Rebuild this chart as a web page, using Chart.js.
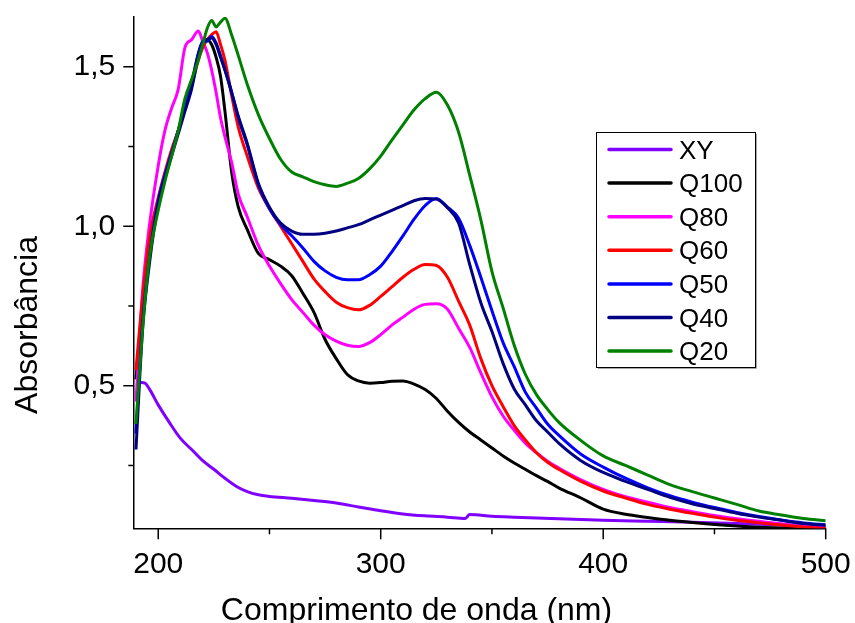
<!DOCTYPE html>
<html><head><meta charset="utf-8">
<script src="https://cdn.jsdelivr.net/npm/chart.js@4.4.1/dist/chart.umd.min.js"></script>
<style>html,body{margin:0;padding:0;background:#fff}#wrap{width:855px;height:623px;position:relative}</style>
</head><body><div id="wrap"><canvas id="c" width="855" height="623"></canvas></div>
<script>
// ---- data ----
const wavelengths = [190,193,196,200,203,206,209,212,215,218,220,222,224,226,228,230,233,236,240,
  245,250,255,260,265,270,275,280,285,290,295,300,305,310,315,320,325,330,335,340,345,350,355,360,365,370,375,380,
  390,400,410,420,430,440,450,460,470,480,490,500];

const xyWavelengths = [192,194,196,200,205,210,215,220,225,230,235,240,245,250,260,270,280,290,300,310,320,330,338,340,350,360,380,400,420,440,460,480,500];
const xyValues      = [0.51,0.508,0.49,0.44,0.385,0.335,0.30,0.265,0.238,0.21,0.185,0.168,0.158,0.153,0.147,0.14,0.132,0.12,0.108,0.098,0.092,0.088,0.084,0.096,0.091,0.088,0.083,0.078,0.075,0.072,0.068,0.063,0.058];

const q100 = [0.52,0.76,0.95,1.08,1.16,1.23,1.30,1.37,1.45,1.54,1.575,1.585,1.57,1.53,1.47,1.36,1.17,1.06,0.99,
  0.915,0.895,0.875,0.845,0.79,0.73,0.645,0.585,0.535,0.515,0.508,0.51,0.514,0.515,0.505,0.488,0.46,0.42,0.385,0.355,0.33,0.305,0.28,0.258,0.238,0.218,0.20,0.18,
  0.148,0.113,0.097,0.087,0.078,0.071,0.065,0.06,0.056,0.054,0.052,0.05];

const q80 = [0.45,0.80,1.00,1.19,1.30,1.37,1.43,1.56,1.585,1.612,1.58,1.545,1.49,1.42,1.34,1.28,1.20,1.10,1.03,
  0.94,0.875,0.82,0.77,0.73,0.69,0.66,0.64,0.627,0.623,0.635,0.66,0.69,0.715,0.74,0.755,0.757,0.74,0.68,0.62,0.54,0.465,0.405,0.36,0.32,0.29,0.263,0.242,
  0.205,0.175,0.152,0.135,0.118,0.105,0.093,0.083,0.075,0.067,0.06,0.056];

const q60 = [0.55,0.78,0.96,1.09,1.17,1.24,1.30,1.37,1.44,1.52,1.56,1.585,1.60,1.61,1.57,1.52,1.41,1.31,1.22,
  1.12,1.055,1.0,0.945,0.89,0.835,0.795,0.762,0.745,0.738,0.752,0.78,0.81,0.84,0.865,0.88,0.877,0.84,0.765,0.69,0.585,0.50,0.435,0.375,0.33,0.29,0.26,0.238,
  0.20,0.17,0.148,0.128,0.113,0.10,0.088,0.078,0.07,0.063,0.057,0.052];

const q50 = [0.35,0.70,0.90,1.08,1.16,1.23,1.30,1.37,1.44,1.54,1.58,1.58,1.595,1.575,1.535,1.49,1.42,1.34,1.255,
  1.13,1.055,1.005,0.97,0.932,0.89,0.86,0.84,0.832,0.832,0.848,0.875,0.92,0.97,1.022,1.065,1.087,1.06,1.025,0.94,0.84,0.735,0.635,0.56,0.48,0.43,0.38,0.345,
  0.285,0.245,0.21,0.18,0.155,0.135,0.118,0.103,0.09,0.079,0.07,0.064];

const q40 = [0.30,0.68,0.88,1.07,1.15,1.22,1.29,1.36,1.43,1.53,1.575,1.585,1.59,1.57,1.53,1.49,1.42,1.345,1.26,
  1.135,1.06,1.01,0.985,0.975,0.975,0.978,0.985,0.995,1.005,1.02,1.035,1.05,1.065,1.08,1.087,1.085,1.058,1.01,0.88,0.76,0.67,0.57,0.49,0.44,0.39,0.355,0.32,
  0.265,0.228,0.20,0.175,0.15,0.13,0.115,0.10,0.088,0.078,0.068,0.062];

const q20 = [0.38,0.68,0.90,1.05,1.14,1.22,1.30,1.40,1.46,1.52,1.57,1.62,1.645,1.625,1.64,1.652,1.60,1.535,1.445,
  1.35,1.275,1.21,1.17,1.155,1.14,1.13,1.125,1.135,1.15,1.18,1.22,1.27,1.318,1.365,1.40,1.42,1.38,1.295,1.16,1.02,0.858,0.744,0.627,0.536,0.472,0.426,0.386,
  0.328,0.28,0.25,0.22,0.19,0.168,0.148,0.128,0.107,0.095,0.084,0.077];

const seriesNames  = ['XY','Q100','Q80','Q60','Q50','Q40','Q20'];
const seriesColors = ['#8000FF','#000000','#FF00FF','#FF0000','#0000FF','#000080','#008000'];
const seriesValues = [xyValues, q100, q80, q60, q50, q40, q20];

const xTickValues  = [200,250,300,350,400,450,500];
const xTickLabels  = [200,300,400,500];
const yTickValues  = [0.25,0.5,0.75,1.0,1.25,1.5];
const yTickLabels  = [0.5,1.0,1.5];

const xTitle = 'Comprimento de onda (nm)';
const yTitle = 'Absorbância';

// ---- chart ----
const FONT = '"Liberation Sans", Arial, Helvetica, sans-serif';
Chart.defaults.font.family = FONT;
Chart.defaults.color = '#000';

const datasets = seriesNames.map((name, i) => {
  const xs = i === 0 ? xyWavelengths : wavelengths;
  return {
    label: name,
    data: xs.map((x, k) => ({x: x, y: seriesValues[i][k]})),
    borderColor: seriesColors[i],
    backgroundColor: seriesColors[i],
    borderWidth: 3,
    pointRadius: 0,
    fill: false,
    cubicInterpolationMode: 'monotone',
    order: seriesNames.length - i
  };
});

const isIn = (arr, v) => arr.some(a => Math.abs(a - v) < 1e-6);

const decor = {
  id: 'decor',
  afterDraw(chart) {
    const ctx = chart.ctx, xs = chart.scales.x, ys = chart.scales.y, area = chart.chartArea;
    ctx.save();
    ctx.strokeStyle = '#000';
    ctx.lineWidth = 1.5;
    // tick marks (outward)
    xTickValues.forEach(v => {
      const px = xs.getPixelForValue(v);
      const len = isIn(xTickLabels, v) ? 11 : 6;
      ctx.beginPath(); ctx.moveTo(px, area.bottom); ctx.lineTo(px, area.bottom + len); ctx.stroke();
    });
    yTickValues.forEach(v => {
      const py = ys.getPixelForValue(v);
      const len = isIn(yTickLabels, v) ? 10 : 5;
      ctx.beginPath(); ctx.moveTo(area.left - len, py); ctx.lineTo(area.left, py); ctx.stroke();
    });
    // axis titles
    ctx.fillStyle = '#000';
    ctx.font = '32px ' + FONT;
    ctx.textAlign = 'center';
    ctx.textBaseline = 'alphabetic';
    ctx.fillText(xTitle, 416.5, 620);
    ctx.save();
    ctx.translate(37, 325);
    ctx.rotate(-Math.PI / 2);
    ctx.fillText(yTitle, 0, 0);
    ctx.restore();
    // legend
    const bx = 596, by = 132, bw = 159, bh = 235;
    ctx.fillStyle = '#fff';
    ctx.fillRect(bx, by, bw, bh);
    ctx.strokeStyle = '#888';
    ctx.lineWidth = 1.5;
    ctx.beginPath(); ctx.moveTo(bx + bw + 1, by + 2); ctx.lineTo(bx + bw + 1, by + bh + 1); ctx.lineTo(bx + 2, by + bh + 1); ctx.stroke();
    ctx.strokeStyle = '#000';
    ctx.lineWidth = 1;
    ctx.strokeRect(bx + 0.5, by + 0.5, bw, bh);
    ctx.font = '26px ' + FONT;
    ctx.textAlign = 'left';
    ctx.textBaseline = 'middle';
    const step = 33.6;
    seriesNames.forEach((name, i) => {
      const y = 149.5 + i * step;
      ctx.strokeStyle = seriesColors[i];
      ctx.lineWidth = 3.5;
      ctx.lineCap = 'round';
      ctx.beginPath(); ctx.moveTo(609, y); ctx.lineTo(671, y); ctx.stroke();
      ctx.fillStyle = '#000';
      ctx.fillText(name, 679, y + 2);
    });
    ctx.restore();
  }
};

new Chart(document.getElementById('c'), {
  type: 'line',
  data: { datasets },
  options: {
    responsive: false,
    animation: false,
    devicePixelRatio: 1,
    layout: { padding: { left: 0, right: 29.3, top: 16.7, bottom: 0 } },
    plugins: { legend: { display: false }, tooltip: { enabled: false }, title: { display: false } },
    scales: {
      x: {
        type: 'linear', min: 188.8, max: 500,
        afterBuildTicks: s => { s.ticks = xTickValues.map(v => ({value: v})); },
        afterFit: s => { s.height = 623 - 528.3; s.paddingLeft = 0; s.paddingRight = 0; s.paddingTop = 0; s.paddingBottom = 0; },
        grid: { display: false, drawTicks: false, tickLength: 0 },
        border: { display: true, color: '#000', width: 1.5 },
        ticks: {
          autoSkip: false, maxRotation: 0, padding: 18, color: '#000',
          font: { size: 30, family: FONT },
          callback: v => isIn(xTickLabels, v) ? String(v) : ''
        }
      },
      y: {
        type: 'linear', min: 0.053, max: 1.657,
        afterBuildTicks: s => { s.ticks = yTickValues.map(v => ({value: v})); },
        afterFit: s => { s.width = 133.3; s.paddingLeft = 0; s.paddingRight = 0; s.paddingTop = 0; s.paddingBottom = 0; },
        grid: { display: false, drawTicks: false, tickLength: 0 },
        border: { display: true, color: '#000', width: 1.5 },
        ticks: {
          autoSkip: false, padding: 18, color: '#000',
          font: { size: 30, family: FONT },
          callback: v => isIn(yTickLabels, v) ? v.toFixed(1).replace('.', ',') : ''
        }
      }
    }
  },
  plugins: [decor]
});
</script></body></html>
